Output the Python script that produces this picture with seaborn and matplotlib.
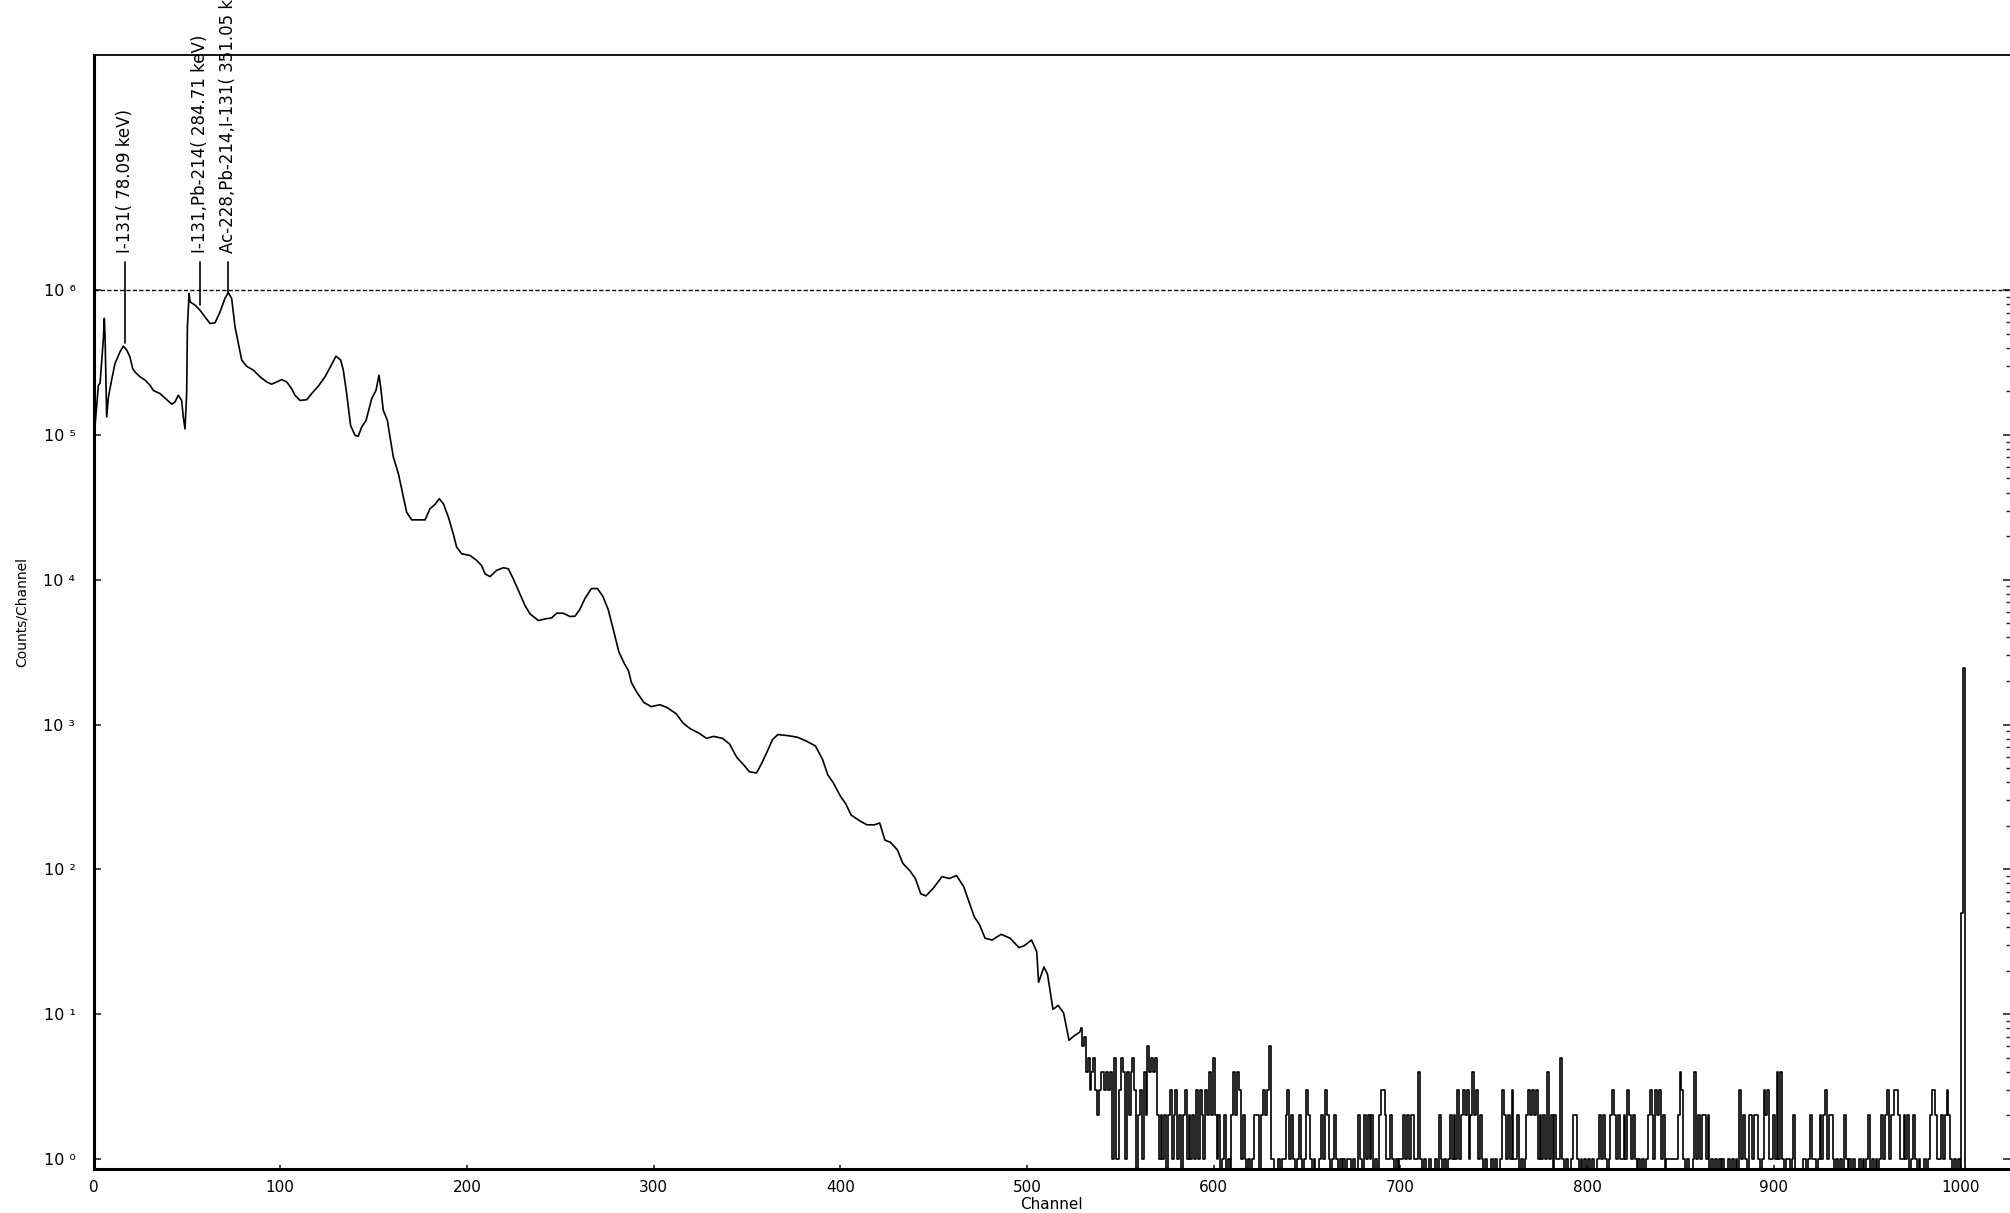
import matplotlib
matplotlib.use("Agg")
import matplotlib.pyplot as plt
import seaborn as sns
import pandas as pd
import numpy as np
from matplotlib.ticker import FixedLocator, NullFormatter

# high-count part of the spectrum (channel, counts/channel)
smooth_channels = [
    0, 0.5, 1, 2.6, 3.5, 4.4, 5.3, 5.8, 6.2, 7.05, 8.0, 9.7, 11.5, 14.2, 16.0,
    17.8, 19.5, 21.0, 22.2, 24.9, 27.6, 30.3, 32.0, 35.6, 39.2, 41.9, 43.7,
    45.4, 47.2, 48.1, 49.0, 49.9, 50.3, 51.2, 51.7, 54.4, 57.0, 59.7, 62.4,
    65.1, 67.8, 70.4, 72.2, 74.0, 75.8, 77.6, 79.4, 82.0, 85.6, 89.2, 92.8,
    95.4, 98.1, 100.8, 103.5, 106.1, 107.9, 110.6, 114.2, 116.9, 120.4, 124.0,
    126.7, 129.9, 132.4, 133.8, 135.6, 137.7, 140.1, 141.8, 143.6, 146.0,
    149.0, 151.3, 152.9, 153.8, 155.2, 157.4, 158.8, 160.6, 163.3, 166.0,
    167.7, 170.4, 177.6, 180.2, 182.9, 185.2, 187.4, 190.1, 192.7, 194.5,
    197.2, 201.7, 205.2, 207.9, 209.7, 212.4, 215.9, 219.5, 222.2, 224.9,
    228.4, 231.1, 233.8, 238.3, 241.8, 245.4, 248.1, 251.6, 255.2, 257.9,
    260.4, 263.3, 266.7, 269.9, 272.8, 275.7, 278.6, 281.4, 284.3, 286.6,
    288.1, 291.0, 294.8, 298.7, 303.4, 307.2, 312.0, 315.9, 319.7, 324.5,
    328.3, 332.1, 336.9, 340.7, 344.6, 348.4, 351.3, 355.1, 357.9, 360.8,
    363.7, 366.6, 372.3, 377.1, 381.8, 386.7, 390.5, 393.3, 396.2, 400.0,
    402.9, 405.8, 410.5, 414.3, 418.2, 421.1, 423.9, 426.8, 430.6, 433.5,
    437.3, 440.2, 443.1, 445.9, 449.8, 454.5, 458.4, 462.2, 466.0, 468.9,
    471.8, 474.6, 477.5, 481.3, 486.1, 490.9, 495.7, 498.5, 502.4, 505.2,
    506.2, 509.1, 511.0, 513.9, 516.7, 519.6, 522.5, 525.3, 528.2, 529,
]
smooth_counts = [
    0, 1.02e5, 1.23e5, 2.2e5, 2.27e5, 3.28e5, 4.63e5, 6.37e5, 4.75e5, 1.33e5,
    1.83e5, 2.39e5, 3.11e5, 3.75e5, 4.1e5, 3.85e5, 3.46e5, 2.87e5, 2.72e5,
    2.52e5, 2.39e5, 2.2e5, 2.03e5, 1.93e5, 1.75e5, 1.63e5, 1.69e5, 1.88e5,
    1.73e5, 1.33e5, 1.10e5, 1.93e5, 5.57e5, 9.5e5, 8.3e5, 7.87e5, 7.27e5,
    6.54e5, 5.88e5, 5.94e5, 7.08e5, 8.76e5, 9.6e5, 8.76e5, 5.57e5, 4.28e5,
    3.28e5, 2.98e5, 2.80e5, 2.52e5, 2.32e5, 2.24e5, 2.32e5, 2.41e5, 2.32e5,
    2.09e5, 1.88e5, 1.73e5, 1.75e5, 1.93e5, 2.17e5, 2.52e5, 2.92e5, 3.50e5,
    3.28e5, 2.80e5, 1.93e5, 1.16e5, 9.93e4, 9.78e4, 1.13e5, 1.26e5, 1.78e5,
    2.03e5, 2.58e5, 2.14e5, 1.48e5, 1.26e5, 9.7e4, 7.03e4, 5.40e4, 3.72e4,
    2.93e4, 2.59e4, 2.59e4, 3.09e4, 3.31e4, 3.62e4, 3.35e4, 2.70e4, 2.07e4,
    1.68e4, 1.51e4, 1.47e4, 1.36e4, 1.25e4, 1.10e4, 1.05e4, 1.16e4, 1.21e4,
    1.19e4, 1.01e4, 7.98e3, 6.64e3, 5.81e3, 5.22e3, 5.36e3, 5.45e3, 5.87e3,
    5.87e3, 5.57e3, 5.6e3, 6.21e3, 7.45e3, 8.69e3, 8.69e3, 7.69e3, 6.21e3,
    4.43e3, 3.17e3, 2.64e3, 2.34e3, 1.95e3, 1.67e3, 1.42e3, 1.33e3, 1.37e3,
    1.31e3, 1.19e3, 1.02e3, 935, 869, 803, 828, 803, 733, 592, 524, 472, 463,
    540, 649, 788, 853, 837, 817, 769, 711, 574, 449, 397, 321, 284, 237, 216,
    203, 203, 209, 159, 154, 136, 110, 97.7, 86.5, 67.7, 65.6, 74.1, 89.1,
    86.5, 90.6, 76.4, 59.9, 46.9, 41.5, 33.5, 32.5, 35.6, 33.5, 28.8, 29.7,
    32.5, 27.0, 16.6, 21.2, 18.8, 10.8, 11.5, 10.2, 6.6, 7.1, 7.5, 8,
]

# low-count tail, one value per channel from channel 529 to 1023
tail_start = 529
tail_counts = [
    8, 6, 7, 4, 5, 3, 4, 5, 3, 2,
    3, 4, 4, 3, 4, 3, 4, 1, 5, 1,
    1, 3, 5, 4, 1, 4, 2, 4, 5, 3,
    0, 2, 3, 1, 4, 2, 6, 4, 5, 4,
    5, 2, 1, 2, 1, 2, 0, 2, 3, 1,
    2, 3, 1, 2, 0, 2, 3, 1, 2, 1,
    2, 1, 3, 1, 3, 2, 1, 3, 2, 4,
    2, 5, 2, 1, 2, 0, 1, 2, 0, 1,
    0, 2, 4, 2, 4, 3, 1, 2, 1, 0,
    1, 0, 1, 2, 2, 2, 0, 2, 3, 2,
    3, 6, 1, 1, 0, 0, 1, 0, 1, 1,
    2, 3, 1, 2, 1, 0, 1, 2, 1, 0,
    1, 3, 2, 1, 0, 1, 0, 0, 1, 2,
    1, 3, 2, 1, 0, 1, 2, 1, 0, 1,
    0, 1, 0, 1, 1, 0, 1, 0, 0, 2,
    1, 0, 2, 1, 2, 1, 2, 0, 1, 0,
    2, 3, 3, 2, 1, 1, 2, 1, 0, 1,
    0, 1, 1, 2, 1, 2, 1, 2, 2, 1,
    1, 4, 1, 0, 1, 0, 0, 1, 0, 0,
    1, 0, 2, 1, 0, 1, 0, 1, 2, 1,
    2, 1, 3, 1, 2, 3, 2, 3, 1, 2,
    4, 2, 3, 1, 2, 1, 0, 1, 0, 0,
    1, 0, 1, 0, 0, 1, 3, 2, 1, 2,
    1, 3, 1, 1, 2, 0, 1, 0, 1, 2,
    3, 2, 3, 2, 3, 1, 2, 1, 2, 1,
    4, 1, 2, 0, 2, 1, 1, 5, 1, 0,
    1, 0, 0, 1, 2, 2, 1, 0, 1, 0,
    1, 0, 1, 0, 1, 0, 0, 1, 2, 1,
    2, 1, 0, 1, 2, 3, 2, 1, 2, 1,
    1, 2, 1, 3, 2, 1, 2, 1, 0, 1,
    0, 1, 0, 1, 2, 3, 2, 1, 3, 2,
    3, 1, 2, 0, 1, 1, 1, 1, 1, 1,
    2, 4, 3, 1, 0, 1, 0, 0, 1, 4,
    1, 2, 1, 2, 2, 1, 2, 0, 1, 0,
    1, 0, 1, 0, 1, 0, 0, 1, 0, 1,
    0, 1, 0, 3, 1, 2, 1, 0, 2, 2,
    1, 2, 2, 1, 0, 1, 3, 2, 3, 1,
    1, 2, 1, 4, 1, 4, 1, 0, 1, 1,
    0, 1, 2, 0, 0, 0, 0, 1, 1, 0,
    1, 2, 1, 1, 0, 1, 2, 1, 2, 3,
    1, 2, 2, 1, 0, 1, 0, 1, 0, 2,
    1, 0, 1, 0, 1, 0, 0, 1, 0, 1,
    0, 1, 2, 0, 1, 0, 1, 0, 1, 2,
    1, 2, 3, 1, 2, 2, 3, 3, 2, 1,
    1, 2, 1, 2, 0, 1, 2, 1, 0, 1,
    0, 0, 1, 0, 1, 2, 3, 3, 2, 1,
    1, 2, 1, 2, 3, 2, 1, 0, 1, 0,
    1, 0, 50, 2450, 0, 0, 0, 0, 0, 0,
    0, 0, 0, 0, 0, 0, 0, 0, 0, 0, 0, 0, 0, 0, 0,
]

# identified peaks
peak_channels = [17, 57, 72]
peak_counts = [4.3e5, 7.9e5, 9.5e5]
peak_labels = [
    "I-131( 78.09 keV)",
    "I-131,Pb-214( 284.71 keV)",
    "Ac-228,Pb-214,I-131( 351.05 keV)",
]
marker_top = 1.56e6
label_base = 1.8e6
reference_level = 1e6

x_ticks = [0, 100, 200, 300, 400, 500, 600, 700, 800, 900, 1000]
y_decades = [0, 1, 2, 3, 4, 5, 6]
y_tick_labels = ["10 ⁰", "10 ¹", "10 ²", "10 ³", "10 ⁴", "10 ⁵", "10 ⁶"]

sns.set_style("white")
plt.rcParams["font.family"] = ["DejaVu Sans"]

fig = plt.figure(figsize=(20.10, 12.13), dpi=100)
ax = fig.add_axes([93.5 / 2010, 44 / 1213, 1 - 93.5 / 2010, 1114 / 1213])

smooth_df = pd.DataFrame({"channel": smooth_channels, "counts": smooth_counts})
tail_df = pd.DataFrame({
    "channel": np.arange(tail_start, tail_start + len(tail_counts)),
    "counts": tail_counts,
})

sns.lineplot(data=smooth_df, x="channel", y="counts", ax=ax, color="black",
             lw=1.2, estimator=None, sort=False)
sns.lineplot(data=tail_df, x="channel", y="counts", ax=ax, color="black",
             lw=1.2, estimator=None, sort=False, drawstyle="steps-mid")

ax.set_yscale("log")
ax.set_xlim(0, 1026.5)
ax.set_ylim(0.853, 4.2e7)

# dotted reference line at 10^6
ax.axhline(reference_level, color="black", lw=1.0, ls=(0, (3, 1.6)))

# peak markers and labels (the last label runs off the top, as in the original)
for ch, cnt, lab in zip(peak_channels, peak_counts, peak_labels):
    ax.plot([ch, ch], [cnt, marker_top], color="black", lw=1.2)
    ax.text(ch, label_base, lab, rotation=90, ha="center", va="bottom",
            fontsize=12, color="black", clip_on=False)

# frame
for side in ["left", "bottom", "top"]:
    ax.spines[side].set_color("black")
ax.spines["right"].set_visible(False)
ax.spines["left"].set_linewidth(2.2)
ax.spines["bottom"].set_linewidth(2.2)
ax.spines["top"].set_linewidth(1.3)

# ticks
ax.set_xticks(x_ticks)
ax.set_xticklabels([str(t) for t in x_ticks])
ax.tick_params(axis="x", which="major", direction="in", bottom=True,
               length=3, width=1.2, pad=8, labelsize=11, labelcolor="black")

ax.yaxis.set_major_locator(FixedLocator([10.0 ** d for d in y_decades]))
ax.set_yticklabels(y_tick_labels)
ax.yaxis.set_minor_locator(FixedLocator(
    [m * 10.0 ** d for d in y_decades[:-1] for m in range(2, 10)]))
ax.yaxis.set_minor_formatter(NullFormatter())
ax.tick_params(axis="y", which="major", direction="in", left=True, right=True,
               length=5, width=1.2, pad=13, labelsize=11.5, labelcolor="black")
ax.tick_params(axis="y", which="minor", direction="in", left=False, right=True,
               length=3, width=1.0)

ax.set_xlabel("Channel", fontsize=11, color="black")
ax.xaxis.set_label_coords(0.5, -0.025)
ax.set_ylabel("Counts/Channel", fontsize=10, color="black")
ax.yaxis.set_label_coords(-0.034, 0.5)

fig.savefig("out.png", dpi=100)
